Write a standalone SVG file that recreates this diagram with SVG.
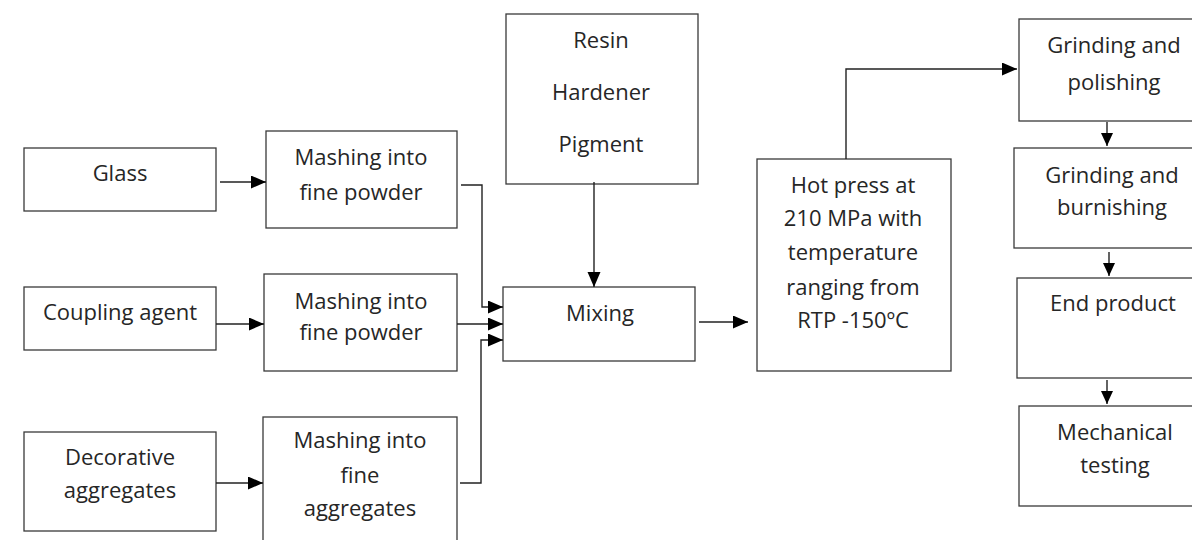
<svg xmlns="http://www.w3.org/2000/svg" width="1192" height="540" viewBox="0 0 1192 540">
  <style>
    .box { fill: #ffffff; stroke: #3a3a3a; stroke-width: 1.3; }
    .lbl { font-family: "Open Sans", "Liberation Sans", sans-serif; font-size: 22px; fill: #262626; text-anchor: middle; }
    .wire { fill: none; stroke: #222222; stroke-width: 1.4; }
  </style>
  <defs>
    <marker id="arrow" markerUnits="userSpaceOnUse" markerWidth="16" markerHeight="14" refX="15" refY="6.5" orient="auto">
      <path d="M0,0 L15,6.5 L0,13 Z" fill="#000000"/>
    </marker>
    <marker id="arrowSmall" markerUnits="userSpaceOnUse" markerWidth="14" markerHeight="12" refX="13" refY="6" orient="auto">
      <path d="M0,0 L13,6 L0,12 Z" fill="#000000"/>
    </marker>
  </defs>
  <rect width="1192" height="540" fill="#ffffff"/>

  <!-- raw materials -->
  <g id="glass">
    <rect class="box" x="24" y="148" width="192" height="63"/>
    <text class="lbl" x="120" y="181">Glass</text>
  </g>
  <g id="coupling-agent">
    <rect class="box" x="24" y="287" width="192" height="63"/>
    <text class="lbl" x="120" y="320">Coupling agent</text>
  </g>
  <g id="decorative-aggregates">
    <rect class="box" x="24" y="432" width="192" height="99"/>
    <text class="lbl" x="120" y="465">Decorative</text>
    <text class="lbl" x="120" y="498">aggregates</text>
  </g>

  <!-- size reduction -->
  <g id="mash-glass">
    <rect class="box" x="266" y="131" width="191" height="97"/>
    <text class="lbl" x="361" y="165">Mashing into</text>
    <text class="lbl" x="361" y="200">fine powder</text>
  </g>
  <g id="mash-coupling">
    <rect class="box" x="264" y="274" width="193" height="97"/>
    <text class="lbl" x="361" y="309">Mashing into</text>
    <text class="lbl" x="361" y="340">fine powder</text>
  </g>
  <g id="mash-aggregates">
    <rect class="box" x="263" y="417" width="194" height="130"/>
    <text class="lbl" x="360" y="448">Mashing into</text>
    <text class="lbl" x="360" y="483">fine</text>
    <text class="lbl" x="360" y="516">aggregates</text>
  </g>

  <!-- binder components -->
  <g id="binder">
    <rect class="box" x="506" y="14" width="192" height="170"/>
    <text class="lbl" x="601" y="48">Resin</text>
    <text class="lbl" x="601" y="100">Hardener</text>
    <text class="lbl" x="601" y="152">Pigment</text>
  </g>

  <g id="mixing">
    <rect class="box" x="503" y="287" width="192" height="74"/>
    <text class="lbl" x="600" y="321">Mixing</text>
  </g>

  <g id="hot-press">
    <rect class="box" x="757" y="159" width="194" height="212"/>
    <text class="lbl" x="853" y="193">Hot press at</text>
    <text class="lbl" x="853" y="226">210 MPa with</text>
    <text class="lbl" x="853" y="260">temperature</text>
    <text class="lbl" x="853" y="295">ranging from</text>
    <text class="lbl" x="853" y="328">RTP -150ºC</text>
  </g>

  <!-- finishing column -->
  <g id="grinding-polishing">
    <rect class="box" x="1019" y="19" width="190" height="102"/>
    <text class="lbl" x="1114" y="53">Grinding and</text>
    <text class="lbl" x="1114" y="90">polishing</text>
  </g>
  <g id="grinding-burnishing">
    <rect class="box" x="1014" y="148" width="195" height="100"/>
    <text class="lbl" x="1112" y="183">Grinding and</text>
    <text class="lbl" x="1112" y="215">burnishing</text>
  </g>
  <g id="end-product">
    <rect class="box" x="1017" y="278" width="192" height="100"/>
    <text class="lbl" x="1113" y="311">End product</text>
  </g>
  <g id="mechanical-testing">
    <rect class="box" x="1019" y="406" width="190" height="100"/>
    <text class="lbl" x="1115" y="440">Mechanical</text>
    <text class="lbl" x="1115" y="473">testing</text>
  </g>

  <g id="connectors">
    <line class="wire" x1="220" y1="182" x2="266" y2="182" marker-end="url(#arrow)"/>
    <line class="wire" x1="216" y1="324" x2="264" y2="324" marker-end="url(#arrow)"/>
    <line class="wire" x1="216" y1="483" x2="263" y2="483" marker-end="url(#arrow)"/>
    <polyline class="wire" points="461,185 482,185 482,307 503,307" marker-end="url(#arrow)"/>
    <line class="wire" x1="457" y1="324" x2="503" y2="324" marker-end="url(#arrow)"/>
    <polyline class="wire" points="460,483 481,483 481,340 503,340" marker-end="url(#arrow)"/>
    <line class="wire" x1="594" y1="182" x2="594" y2="287" marker-end="url(#arrow)"/>
    <line class="wire" x1="699" y1="322" x2="748" y2="322" marker-end="url(#arrow)"/>
    <polyline class="wire" points="846,159 846,69 1017,69" marker-end="url(#arrow)"/>
    <line class="wire" x1="1107" y1="122" x2="1107" y2="146" marker-end="url(#arrowSmall)"/>
    <line class="wire" x1="1109" y1="252" x2="1109" y2="276" marker-end="url(#arrowSmall)"/>
    <line class="wire" x1="1107" y1="380" x2="1107" y2="404" marker-end="url(#arrowSmall)"/>
  </g>
</svg>
